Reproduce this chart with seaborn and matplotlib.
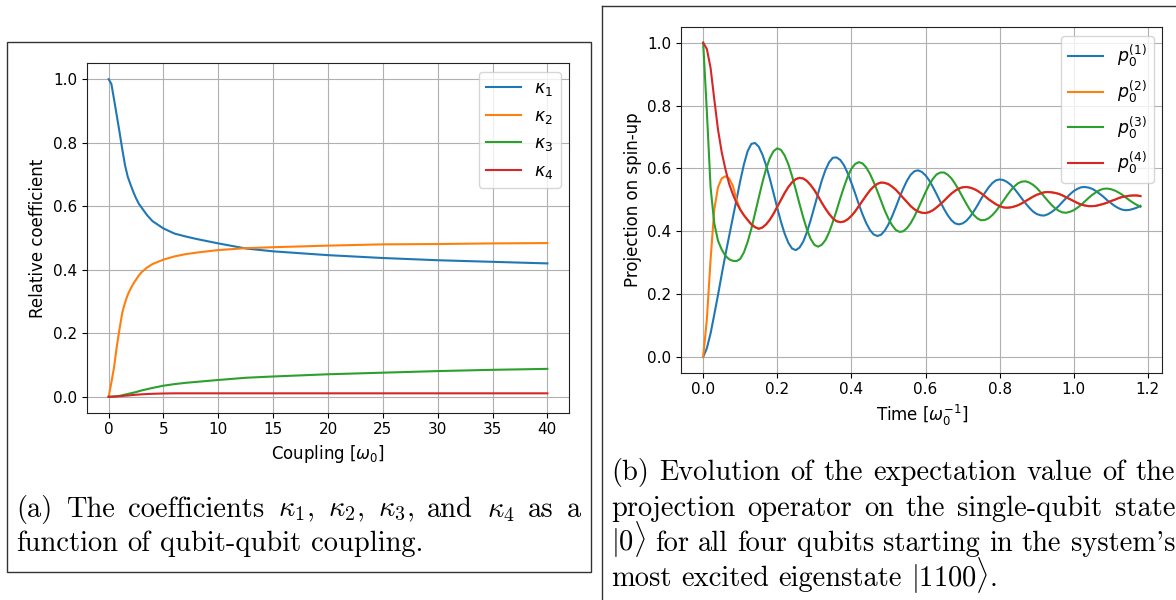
import numpy as np
import pandas as pd
import matplotlib
matplotlib.use("Agg")
import matplotlib.pyplot as plt
from matplotlib.lines import Line2D
import seaborn as sns

# ---------------- data: panel (a) ----------------
coupling = [0, 0.25, 0.5, 0.75, 1, 1.25, 1.5, 1.75, 2, 2.25, 2.5, 2.75, 3, 3.5,
            4, 5, 6, 7, 8, 10, 12.5, 15, 20, 25, 30, 35, 40]
kappa1 = [1.0, 0.985, 0.935, 0.884, 0.832, 0.778, 0.728, 0.692, 0.668, 0.645,
          0.625, 0.608, 0.596, 0.572, 0.553, 0.530, 0.514, 0.505, 0.497, 0.483,
          0.467, 0.458, 0.446, 0.437, 0.430, 0.425, 0.420]
kappa2 = [0.0, 0.045, 0.094, 0.160, 0.215, 0.266, 0.297, 0.322, 0.340, 0.356,
          0.369, 0.382, 0.392, 0.407, 0.418, 0.432, 0.442, 0.449, 0.454, 0.462,
          0.468, 0.471, 0.476, 0.480, 0.481, 0.483, 0.484]
kappa3 = [0.0, 0.0005, 0.001, 0.002, 0.003, 0.005, 0.007, 0.009, 0.011, 0.013,
          0.015, 0.0175, 0.020, 0.024, 0.028, 0.035, 0.040, 0.044, 0.047, 0.053,
          0.060, 0.064, 0.071, 0.076, 0.081, 0.085, 0.088]
kappa4 = [0.0, 0.0003, 0.0007, 0.0012, 0.002, 0.0027, 0.0035, 0.0042, 0.005,
          0.0058, 0.0065, 0.0072, 0.0078, 0.0088, 0.0095, 0.0105, 0.011, 0.011,
          0.011, 0.011, 0.011, 0.011, 0.011, 0.011, 0.011, 0.011, 0.011]
kappa_labels = [r"$\kappa_1$", r"$\kappa_2$", r"$\kappa_3$", r"$\kappa_4$"]

# ---------------- data: panel (b) ----------------
time = [round(0.01 * i, 2) for i in range(119)]  # 0.00 ... 1.18 sample times
p1 = [0.000, 0.028, 0.075, 0.135, 0.197, 0.262, 0.325, 0.384, 0.443, 0.501,
      0.560, 0.613, 0.655, 0.678, 0.681, 0.669, 0.644, 0.609, 0.567, 0.521,
      0.474, 0.430, 0.392, 0.363, 0.345, 0.340, 0.348, 0.367, 0.397, 0.435,
      0.477, 0.520, 0.561, 0.595, 0.620, 0.634, 0.635, 0.627, 0.610, 0.585,
      0.554, 0.521, 0.486, 0.454, 0.426, 0.404, 0.390, 0.385, 0.389, 0.402,
      0.422, 0.448, 0.477, 0.508, 0.536, 0.561, 0.580, 0.591, 0.594, 0.589,
      0.578, 0.562, 0.541, 0.518, 0.494, 0.471, 0.451, 0.435, 0.425, 0.422,
      0.425, 0.433, 0.446, 0.463, 0.482, 0.503, 0.522, 0.539, 0.553, 0.562,
      0.565, 0.563, 0.557, 0.548, 0.535, 0.520, 0.504, 0.489, 0.475, 0.463,
      0.455, 0.451, 0.450, 0.454, 0.461, 0.470, 0.481, 0.494, 0.506, 0.518,
      0.528, 0.535, 0.540, 0.541, 0.539, 0.535, 0.528, 0.519, 0.510, 0.499,
      0.490, 0.481, 0.474, 0.469, 0.467, 0.468, 0.471, 0.475, 0.481]
p3 = [1.000, 0.780, 0.540, 0.425, 0.370, 0.342, 0.322, 0.311, 0.306, 0.305,
      0.312, 0.333, 0.366, 0.408, 0.457, 0.507, 0.556, 0.599, 0.633, 0.655,
      0.664, 0.659, 0.641, 0.613, 0.575, 0.532, 0.487, 0.444, 0.406, 0.376,
      0.357, 0.351, 0.357, 0.372, 0.397, 0.430, 0.466, 0.505, 0.541, 0.574,
      0.599, 0.614, 0.620, 0.616, 0.603, 0.583, 0.557, 0.528, 0.497, 0.466,
      0.440, 0.419, 0.404, 0.398, 0.400, 0.410, 0.426, 0.447, 0.472, 0.498,
      0.524, 0.548, 0.567, 0.581, 0.587, 0.587, 0.580, 0.568, 0.551, 0.531,
      0.509, 0.488, 0.468, 0.452, 0.441, 0.435, 0.436, 0.441, 0.451, 0.464,
      0.480, 0.497, 0.514, 0.530, 0.543, 0.553, 0.558, 0.559, 0.555, 0.548,
      0.538, 0.525, 0.511, 0.497, 0.484, 0.473, 0.465, 0.460, 0.459, 0.462,
      0.467, 0.475, 0.484, 0.495, 0.506, 0.516, 0.524, 0.531, 0.535, 0.536,
      0.534, 0.530, 0.524, 0.517, 0.508, 0.499, 0.491, 0.484, 0.478]
p4 = [1.000, 0.980, 0.920, 0.820, 0.724, 0.652, 0.598, 0.551, 0.518, 0.490,
      0.469, 0.451, 0.436, 0.422, 0.413, 0.408, 0.412, 0.422, 0.437, 0.456,
      0.478, 0.500, 0.522, 0.541, 0.556, 0.566, 0.570, 0.568, 0.560, 0.547,
      0.531, 0.512, 0.491, 0.472, 0.455, 0.441, 0.432, 0.429, 0.431, 0.438,
      0.449, 0.463, 0.480, 0.497, 0.514, 0.530, 0.542, 0.551, 0.555, 0.554,
      0.550, 0.542, 0.532, 0.519, 0.506, 0.493, 0.480, 0.470, 0.463, 0.459,
      0.458, 0.461, 0.467, 0.476, 0.486, 0.497, 0.509, 0.520, 0.529, 0.536,
      0.540, 0.541, 0.539, 0.535, 0.529, 0.521, 0.512, 0.502, 0.494, 0.486,
      0.480, 0.476, 0.475, 0.476, 0.479, 0.483, 0.489, 0.496, 0.503, 0.510,
      0.516, 0.520, 0.524, 0.525, 0.524, 0.522, 0.519, 0.514, 0.508, 0.502,
      0.496, 0.490, 0.485, 0.482, 0.480, 0.480, 0.481, 0.484, 0.487, 0.491,
      0.496, 0.500, 0.505, 0.509, 0.511, 0.513, 0.514, 0.514, 0.512]
# p0^(2): own early rise, afterwards it lies under p0^(4)
p2_early = [0.000, 0.120, 0.310, 0.470, 0.540, 0.568, 0.575, 0.568, 0.545, 0.500]
p2 = p2_early + p4[len(p2_early):]
p_labels = [r"$p_0^{(1)}$", r"$p_0^{(2)}$", r"$p_0^{(3)}$", r"$p_0^{(4)}$"]

caption_a = [
    r"(a) The coefficients $\kappa_1$, $\kappa_2$, $\kappa_3$, and $\kappa_4$ as a",
    r"function of qubit-qubit coupling.",
]
caption_b = [
    r"(b) Evolution of the expectation value of the",
    r"projection operator on the single-qubit state",
    r"$|0\rangle$ for all four qubits starting in the system's",
    r"most excited eigenstate $|1100\rangle$.",
]

# ---------------- figure ----------------
W, H = 1176, 600
fig = plt.figure(figsize=(W / 100, H / 100), dpi=100)
colors = sns.color_palette("tab10", 4)

def px_axes(x0, y0, x1, y1):
    return fig.add_axes([x0 / W, 1 - y1 / H, (x1 - x0) / W, (y1 - y0) / H])

ax1 = px_axes(86.7, 63.3, 569.3, 412.7)
ax2 = px_axes(681.3, 27.0, 1162.3, 372.7)

df_a = pd.DataFrame({"coupling": coupling, "k1": kappa1, "k2": kappa2,
                     "k3": kappa3, "k4": kappa4})
for col, lab, c in zip(["k1", "k2", "k3", "k4"], kappa_labels, colors):
    sns.lineplot(data=df_a, x="coupling", y=col, ax=ax1, color=c, label=lab,
                 linewidth=1.5)

df_b = pd.DataFrame({"time": time, "p1": p1, "p2": p2, "p3": p3, "p4": p4})
for col, lab, c in zip(["p1", "p2", "p3", "p4"], p_labels, colors):
    sns.lineplot(data=df_b, x="time", y=col, ax=ax2, color=c, label=lab,
                 linewidth=1.5)

ax1.set_xlim(-2, 42)
ax1.set_ylim(-0.05, 1.05)
ax1.set_xticks(np.arange(0, 41, 5))
ax1.set_yticks([0.0, 0.2, 0.4, 0.6, 0.8, 1.0])
ax1.set_xlabel(r"Coupling [$\omega_0$]", fontsize=12)
ax1.set_ylabel("Relative coefficient", fontsize=12)

ax2.set_xlim(-0.059, 1.239)
ax2.set_ylim(-0.05, 1.05)
ax2.set_xticks([0.0, 0.2, 0.4, 0.6, 0.8, 1.0, 1.2])
ax2.set_yticks([0.0, 0.2, 0.4, 0.6, 0.8, 1.0])
ax2.set_xlabel(r"Time [$\omega_0^{-1}$]", fontsize=12)
ax2.set_ylabel("Projection on spin-up", fontsize=12)

for ax in (ax1, ax2):
    ax.grid(True, color="#b0b0b0", linewidth=0.8)
    ax.tick_params(labelsize=11)
    for s in ax.spines.values():
        s.set_color("#222222")
    ax.legend(loc="upper right", fontsize=12.5, handlelength=2.0)

# panel frames
fig.add_artist(plt.Rectangle((6.7 / W, 1 - 571.7 / H), (590.7 - 6.7) / W,
                             (571.7 - 41.7) / H, transform=fig.transFigure,
                             fill=False, edgecolor="#333333", linewidth=1.0))
fig.add_artist(Line2D([601.7 / W, 1.0], [1 - 5.5 / H, 1 - 5.5 / H],
                      transform=fig.transFigure, color="#333333", linewidth=1.0))
fig.add_artist(Line2D([601.7 / W, 601.7 / W], [0.0, 1 - 5.5 / H],
                      transform=fig.transFigure, color="#333333", linewidth=1.0))

# captions (justified serif text)
CAP_SIZE = 20.5
renderer = fig.canvas.get_renderer()

def caption_line(text, x0, x1, y, justify):
    words = text.split(" ")
    arts = [fig.text(0, 1 - y / H, w, fontsize=CAP_SIZE, family="cmr10",
                     math_fontfamily="cm", va="baseline", ha="left")
            for w in words]
    widths = [a.get_window_extent(renderer).width for a in arts]
    space = CAP_SIZE * 100 / 72 * 0.333
    if justify and len(words) > 1:
        gap = (x1 - x0 - sum(widths)) / (len(words) - 1)
    else:
        gap = space
    x = x0
    for a, w in zip(arts, widths):
        a.set_x(x / W)
        x += w + gap

caption_line(caption_a[0], 16.0, 581.5, 516.7, True)
caption_line(caption_a[1], 16.0, 581.5, 550.7, False)
ys_b = [480.0, 515.5, 551.0, 586.5]
for i, (line, yb) in enumerate(zip(caption_b, ys_b)):
    caption_line(line, 611.0, 1175.0, yb, i < 3)

fig.savefig("out.png", dpi=100)
